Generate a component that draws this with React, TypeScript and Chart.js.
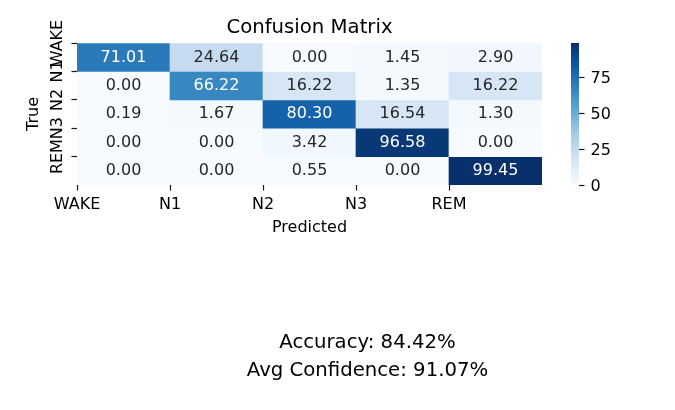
import React, { useEffect, useRef } from 'react';
import { Chart, registerables } from 'chart.js';

Chart.register(...registerables);

// ---- data ----
const classLabels = ['WAKE', 'N1', 'N2', 'N3', 'REM'];
const rowWake = [71.01, 24.64, 0.0, 1.45, 2.9];
const rowN1 = [0.0, 66.22, 16.22, 1.35, 16.22];
const rowN2 = [0.19, 1.67, 80.3, 16.54, 1.3];
const rowN3 = [0.0, 0.0, 3.42, 96.58, 0.0];
const rowRem = [0.0, 0.0, 0.55, 0.0, 99.45];
const matrixRows = [rowWake, rowN1, rowN2, rowN3, rowRem];
const colorbarTicks = [0, 25, 50, 75];
const accuracy = 84.42;
const avgConfidence = 91.07;
const titleText = 'Confusion Matrix';
const xTitle = 'Predicted';
const yTitle = 'True';

// ---- style helpers ----
const FONT = 'DejaVu Sans';
const BLUES = ['#f7fbff', '#deebf7', '#c6dbef', '#9ecae1', '#6baed6', '#4292c6', '#2171b5', '#08519c', '#08306b'];

const hexToRgb = (h: string) => [parseInt(h.slice(1, 3), 16), parseInt(h.slice(3, 5), 16), parseInt(h.slice(5, 7), 16)];

function bluesRgb(t: number): number[] {
  const tt = Math.max(0, Math.min(1, t)) * (BLUES.length - 1);
  const i = Math.min(Math.floor(tt), BLUES.length - 2);
  const f = tt - i;
  const a = hexToRgb(BLUES[i]);
  const b = hexToRgb(BLUES[i + 1]);
  return a.map((v, k) => Math.round(v + (b[k] - v) * f));
}
const rgbStr = (c: number[]) => `rgb(${c[0]},${c[1]},${c[2]})`;
function luminance(c: number[]) {
  const lin = c.map((v) => {
    const s = v / 255;
    return s <= 0.03928 ? s / 12.92 : Math.pow((s + 0.055) / 1.055, 2.4);
  });
  return 0.2126 * lin[0] + 0.7152 * lin[1] + 0.0722 * lin[2];
}

const allValues = matrixRows.flat();
const vmin = Math.min(...allValues);
const vmax = Math.max(...allValues);
const norm = (v: number) => (v - vmin) / (vmax - vmin);

const cellTextPlugin = {
  id: 'cellText',
  afterDatasetsDraw(chart: any) {
    const ctx = chart.ctx;
    ctx.save();
    ctx.font = `16px "${FONT}"`;
    ctx.textAlign = 'center';
    ctx.textBaseline = 'middle';
    chart.data.datasets.forEach((ds: any, di: number) => {
      const meta = chart.getDatasetMeta(di);
      meta.data.forEach((el: any, i: number) => {
        const raw = ds.data[i];
        const { x, y } = el.getCenterPoint();
        ctx.fillStyle = luminance(bluesRgb(norm(raw.v))) > 0.408 ? '#262626' : '#ffffff';
        ctx.fillText(raw.v.toFixed(2), x, y);
      });
    });
    ctx.restore();
  },
};

const tickFont = { family: FONT, size: 16 };

export default function App() {
  const mainRef = useRef<HTMLCanvasElement>(null);
  const cbRef = useRef<HTMLCanvasElement>(null);

  useEffect(() => {
    const datasets = matrixRows.map((row, r) => ({
      label: classLabels[r],
      data: row.map((v, c) => ({ x: c + 0.5, y: [r, r + 1], v })),
      backgroundColor: (ctx: any) => rgbStr(bluesRgb(norm(ctx.raw && typeof ctx.raw.v === 'number' ? ctx.raw.v : 0))),
      borderWidth: 0,
      barPercentage: 1,
      categoryPercentage: 1,
      grouped: false,
    }));

    const edgeTicks = (s: any) => {
      s.ticks = classLabels.map((_, i) => ({ value: i }));
    };

    const main = new Chart(mainRef.current as HTMLCanvasElement, {
      type: 'bar',
      data: { datasets } as any,
      options: {
        responsive: false,
        animation: false,
        layout: { padding: { left: 0, right: 133, top: 0, bottom: 172.6 } },
        plugins: {
          legend: { display: false },
          tooltip: { enabled: false },
          title: {
            display: true,
            text: titleText,
            fullSize: false,
            color: '#000',
            font: { family: FONT, size: 19.7, weight: 'normal' },
            padding: { top: 16.2, bottom: 3.2 },
          },
        },
        scales: {
          x: {
            type: 'linear',
            min: 0,
            max: classLabels.length,
            offset: false,
            afterBuildTicks: edgeTicks,
            afterFit: (s: any) => {
              s.height = 52.4;
            },
            grid: { display: true, drawOnChartArea: false, drawTicks: true, tickLength: 5.5, tickColor: '#1a1a1a', tickWidth: 1.2, offset: false },
            border: { display: false },
            ticks: {
              autoSkip: false,
              minRotation: 0,
              maxRotation: 0,
              padding: 4.6,
              color: '#000',
              font: tickFont,
              callback: (v: any) => classLabels[v] ?? '',
            },
            title: { display: true, text: xTitle, color: '#000', font: tickFont, padding: { top: 0, bottom: 0 } },
          },
          y: {
            type: 'linear',
            min: 0,
            max: classLabels.length,
            reverse: true,
            offset: false,
            afterBuildTicks: edgeTicks,
            afterFit: (s: any) => {
              s.width = 77;
            },
            grid: { display: true, drawOnChartArea: false, drawTicks: true, tickLength: 5.5, tickColor: '#1a1a1a', tickWidth: 1.2, offset: false },
            border: { display: false },
            ticks: {
              autoSkip: false,
              minRotation: 90,
              maxRotation: 90,
              crossAlign: 'center',
              padding: -10,
              color: '#000',
              font: tickFont,
              callback: (v: any) => classLabels[v] ?? '',
            },
            title: { display: true, text: yTitle, color: '#000', font: tickFont, padding: { top: 24.4, bottom: 0 } },
          },
        },
      } as any,
      plugins: [cellTextPlugin],
    });

    const cb = new Chart(cbRef.current as HTMLCanvasElement, {
      type: 'bar',
      data: {
        labels: [''],
        datasets: [
          {
            data: [[vmin, vmax]],
            borderWidth: 0,
            barPercentage: 1,
            categoryPercentage: 1,
            backgroundColor: (ctx: any) => {
              const chart = ctx.chart;
              const ys = chart.scales && chart.scales.y;
              if (!chart.chartArea || !ys) return BLUES[4];
              const y0 = ys.getPixelForValue(vmin);
              const y1 = ys.getPixelForValue(vmax);
              if (!isFinite(y0) || !isFinite(y1)) return BLUES[4];
              const g = chart.ctx.createLinearGradient(0, y0, 0, y1);
              BLUES.forEach((c, i) => g.addColorStop(i / (BLUES.length - 1), c));
              return g;
            },
          },
        ],
      } as any,
      options: {
        responsive: false,
        animation: false,
        layout: { padding: { left: 571, right: 0, top: 43, bottom: 225 } },
        plugins: { legend: { display: false }, tooltip: { enabled: false }, title: { display: false } },
        scales: {
          x: { display: false },
          y: {
            position: 'right',
            min: vmin,
            max: vmax,
            afterBuildTicks: (s: any) => {
              s.ticks = colorbarTicks.map((v) => ({ value: v }));
            },
            afterFit: (s: any) => {
              s.width = 96;
            },
            grid: { display: true, drawOnChartArea: false, drawTicks: true, tickLength: 5.5, tickColor: '#1a1a1a', tickWidth: 1.2 },
            border: { display: false },
            ticks: { padding: 6, labelOffset: 1.4, color: '#000', font: tickFont, autoSkip: false },
          },
        },
      } as any,
    });

    return () => {
      main.destroy();
      cb.destroy();
    };
  }, []);

  return (
    <div style={{ position: 'fixed', left: 0, top: 0, width: 675, height: 410, background: '#fff', overflow: 'hidden' }}>
      <canvas ref={mainRef} width={675} height={410} style={{ position: 'absolute', left: 0, top: 0, width: 675, height: 410 }} />
      <canvas ref={cbRef} width={675} height={410} style={{ position: 'absolute', left: 0, top: 0, width: 675, height: 410 }} />
      <div
        style={{
          position: 'absolute',
          left: 167.5,
          width: 400,
          top: 327.5,
          textAlign: 'center',
          fontFamily: FONT,
          fontSize: 19.7,
          lineHeight: '28px',
          color: '#000',
        }}
      >
        <div>{`Accuracy: ${accuracy.toFixed(2)}%`}</div>
        <div>{`Avg Confidence: ${avgConfidence.toFixed(2)}%`}</div>
      </div>
    </div>
  );
}
